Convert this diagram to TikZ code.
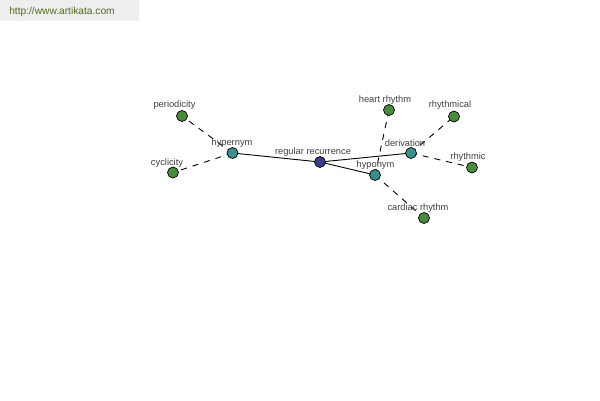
\documentclass[tikz,border=0pt]{standalone}
\usepackage{fontspec}
\setmainfont{Liberation Sans}
\definecolor{hdrbg}{HTML}{EEEEEE}
\definecolor{hdrtxt}{HTML}{4F6B1E}
\definecolor{rootc}{HTML}{3C3C8C}
\definecolor{midc}{HTML}{3A8E8E}
\definecolor{leafc}{HTML}{4A8A3C}
\definecolor{lblc}{HTML}{404040}
\begin{document}
\begin{tikzpicture}[x=1pt,y=-1pt,
  dot/.style={circle,draw=black,line width=0.7pt,minimum size=11pt,inner sep=0pt},
  rootdot/.style={dot,fill=rootc},
  middot/.style={dot,fill=midc},
  leafdot/.style={dot,fill=leafc},
  lbl/.style={text=lblc,font=\fontsize{9.3}{10}\selectfont,inner sep=0pt},
  solidedge/.style={draw=black,line width=0.9pt},
  dashedge/.style={draw=black,line width=0.9pt,dash pattern=on 6pt off 6pt}]
\useasboundingbox (0,0) rectangle (600,400);
\fill[white] (0,0) rectangle (600,400);
\node[fill=hdrbg,minimum width=139pt,minimum height=21pt,inner sep=0pt,anchor=north west] (hdr) at (0,0) {};
\node[text=hdrtxt,font=\fontsize{10.2}{11}\selectfont,inner sep=0pt] (url) at (62,11.5) {http://www.artikata.com};
% nodes
\coordinate (rr) at (320,162);
\coordinate (hyper) at (232.5,153);
\coordinate (period) at (182,116);
\coordinate (cycl) at (173,172.5);
\coordinate (deriv) at (411,153);
\coordinate (hypo) at (375,175);
\coordinate (heart) at (389,110);
\coordinate (rhythmical) at (454,116.5);
\coordinate (rhythmic) at (472,167.5);
\coordinate (cardiac) at (424,218);
% edges
\draw[solidedge] (rr) -- (hyper);
\draw[solidedge] (rr) -- (deriv);
\draw[solidedge] (rr) -- (hypo);
\draw[dashedge] (hyper) -- (period);
\draw[dashedge] (hyper) -- (cycl);
\draw[dashedge] (deriv) -- (rhythmical);
\draw[dashedge] (deriv) -- (rhythmic);
\draw[dashedge] (hypo) -- (heart);
\draw[dashedge] (hypo) -- (cardiac);
% dots
\node[rootdot] (nrr) at (rr) {};
\node[middot] (nhyper) at (hyper) {};
\node[middot] (nderiv) at (deriv) {};
\node[middot] (nhypo) at (hypo) {};
\node[leafdot] (nperiod) at (period) {};
\node[leafdot] (ncycl) at (cycl) {};
\node[leafdot] (nheart) at (heart) {};
\node[leafdot] (nrhythmical) at (rhythmical) {};
\node[leafdot] (nrhythmic) at (rhythmic) {};
\node[leafdot] (ncardiac) at (cardiac) {};
% labels
\node[lbl] (lrr) at (313,152.5) {regular recurrence};
\node[lbl] (lhyper) at (232,143.5) {hypernym};
\node[lbl] (lperiod) at (174.5,105.5) {periodicity};
\node[lbl] (lcycl) at (167,163) {cyclicity};
\node[lbl] (lderiv) at (405,143.5) {derivation};
\node[lbl] (lhypo) at (375.5,165.5) {hyponym};
\node[lbl] (lheart) at (385,100.5) {heart rhythm};
\node[lbl] (lrhythmical) at (450,105.5) {rhythmical};
\node[lbl] (lrhythmic) at (468,157.5) {rhythmic};
\node[lbl] (lcardiac) at (418,208.5) {cardiac rhythm};
\end{tikzpicture}
\end{document}
